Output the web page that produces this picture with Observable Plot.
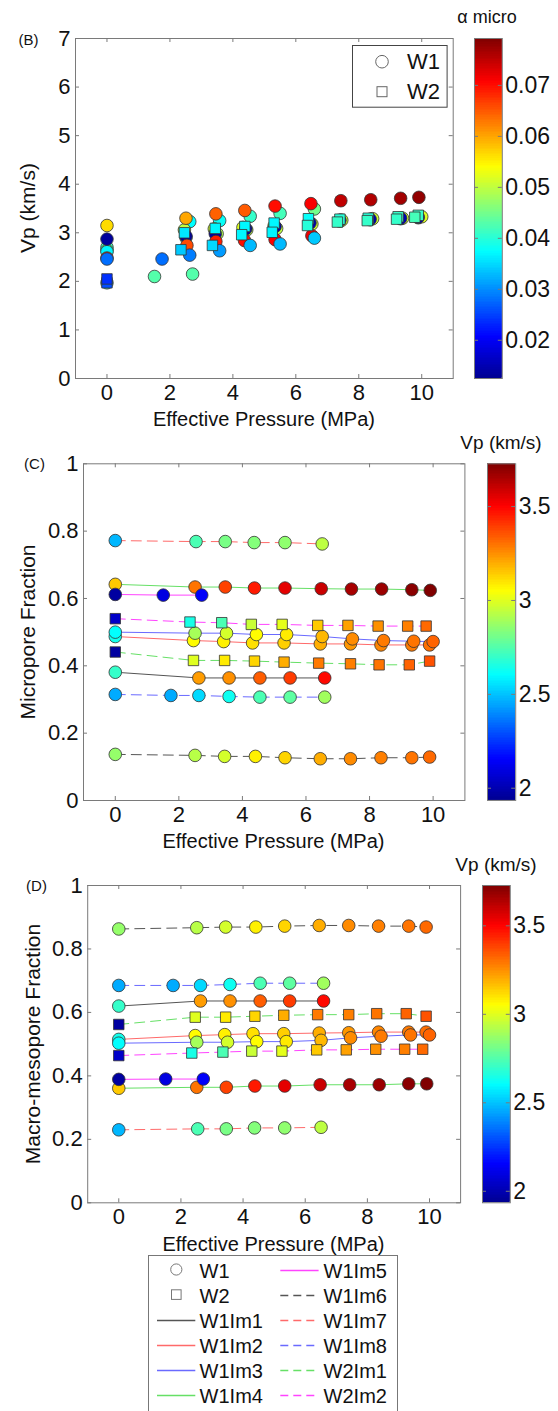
<!DOCTYPE html>
<html><head><meta charset="utf-8">
<script src="https://cdn.jsdelivr.net/npm/d3@7"></script>
<script src="https://cdn.jsdelivr.net/npm/@observablehq/plot@0.6"></script>
<style>
body{margin:0;background:#fff;}
#root{position:relative;width:558px;height:1411px;overflow:hidden;font-family:"Liberation Sans",Arial,sans-serif;color:#111;background:#fff;}
.lbl{position:absolute;white-space:nowrap;transform:translate(-50%,-50%);line-height:1;}
.rot{position:absolute;white-space:nowrap;transform:translate(-50%,-50%) rotate(-90deg);line-height:1;}
</style></head><body><div id="root"></div>
<script>
// ---------------- DATA ----------------
const samples = ["W1Im1","W1Im2","W1Im3","W1Im4","W1Im5","W1Im6","W1Im7","W1Im8","W2Im1","W2Im2"];
const wellOf  = ["W1","W1","W1","W1","W1","W1","W1","W1","W2","W2"];
// effective pressure (MPa)
const pressure = [
  [0, 2.63, 3.58, 4.55, 5.50, 6.59],
  [0, 2.46, 3.41, 4.32, 5.31, 6.45, 7.40, 8.36, 9.33, 9.89],
  [0, 2.51, 3.50, 4.44, 5.39, 6.51, 7.46, 8.44, 9.39, 10.0],
  [0, 2.51, 3.46, 4.38, 5.34, 6.48, 7.43, 8.38, 9.33, 9.91],
  [0, 1.51, 2.72],
  [0, 2.51, 3.44, 4.41, 5.34, 6.45, 7.40, 8.36, 9.33, 9.89],
  [0, 2.54, 3.46, 4.37, 5.34, 6.51],
  [0, 1.75, 2.63, 3.58, 4.55, 5.50, 6.59],
  [0, 2.46, 3.44, 4.38, 5.31, 6.40, 7.40, 8.30, 9.25, 9.89],
  [0, 2.35, 3.35, 4.28, 5.25, 6.37, 7.32, 8.27, 9.20, 9.78]
];
// Vp (km/s)
const vp = [
  [2.70, 3.23, 3.25, 3.34, 3.40, 3.49],
  [2.64, 3.06, 3.08, 3.11, 3.14, 3.20, 3.24, 3.27, 3.29, 3.31],
  [2.61, 2.90, 2.98, 3.06, 3.09, 3.18, 3.26, 3.29, 3.30, 3.33],
  [3.15, 3.30, 3.39, 3.46, 3.55, 3.60, 3.66, 3.68, 3.71, 3.73],
  [1.97, 2.10, 2.15],
  [2.87, 2.93, 2.98, 3.08, 3.13, 3.20, 3.26, 3.28, 3.30, 3.32],
  [2.48, 2.74, 2.82, 2.84, 2.86, 2.94],
  [2.46, 2.46, 2.54, 2.63, 2.74, 2.77, 2.89],
  [1.97, 3.00, 3.09, 3.13, 3.20, 3.29, 3.28, 3.30, 3.33, 3.36],
  [2.05, 2.65, 2.74, 2.96, 3.01, 3.15, 3.22, 3.25, 3.28, 3.32]
];
// alpha micro
const alphaMicro = [
  [0.042, 0.0375, 0.038, 0.041, 0.042, 0.045],
  [0.045, 0.050, 0.051, 0.052, 0.052, 0.053, 0.052, 0.052, 0.052, 0.053],
  [0.037, 0.048, 0.049, 0.050, 0.050, 0.051, 0.051, 0.051, 0.051, 0.052],
  [0.0565, 0.060, 0.0645, 0.065, 0.070, 0.0712, 0.075, 0.076, 0.077, 0.078],
  [0.0425, 0.043, 0.043],
  [0.0135, 0.0135, 0.014, 0.014, 0.014, 0.0145, 0.0145, 0.0145, 0.015, 0.015],
  [0.068, 0.066, 0.069, 0.070, 0.071, 0.072],
  [0.028, 0.028, 0.029, 0.031, 0.033, 0.033, 0.034],
  [0.026, 0.036, 0.037, 0.037, 0.037, 0.038, 0.040, 0.040, 0.041, 0.041],
  [0.024, 0.034, 0.035, 0.037, 0.037, 0.040, 0.041, 0.041, 0.041, 0.042]
];
// micropore fraction
const microFraction = [
  [0.381, 0.364, 0.364, 0.364, 0.364, 0.364],
  [0.487, 0.475, 0.472, 0.468, 0.468, 0.465, 0.465, 0.462, 0.462, 0.462],
  [0.500, 0.497, 0.497, 0.493, 0.493, 0.487, 0.480, 0.475, 0.473, 0.472],
  [0.642, 0.634, 0.634, 0.631, 0.631, 0.629, 0.628, 0.628, 0.626, 0.624],
  [0.612, 0.610, 0.610],
  [0.137, 0.134, 0.131, 0.131, 0.127, 0.124, 0.124, 0.127, 0.127, 0.129],
  [0.772, 0.769, 0.769, 0.766, 0.766, 0.762],
  [0.315, 0.312, 0.312, 0.309, 0.307, 0.307, 0.307],
  [0.441, 0.416, 0.416, 0.414, 0.411, 0.408, 0.406, 0.403, 0.403, 0.414],
  [0.540, 0.530, 0.528, 0.523, 0.523, 0.520, 0.520, 0.518, 0.518, 0.518]
];
// macro-mesopore fraction
const macroFraction = [
  [0.620, 0.636, 0.636, 0.636, 0.636, 0.636],
  [0.515, 0.527, 0.530, 0.533, 0.533, 0.535, 0.536, 0.538, 0.538, 0.538],
  [0.503, 0.506, 0.506, 0.508, 0.508, 0.512, 0.520, 0.525, 0.529, 0.529],
  [0.361, 0.364, 0.364, 0.368, 0.368, 0.372, 0.372, 0.372, 0.375, 0.375],
  [0.389, 0.390, 0.390],
  [0.863, 0.867, 0.869, 0.869, 0.872, 0.874, 0.874, 0.872, 0.872, 0.869],
  [0.230, 0.233, 0.233, 0.236, 0.236, 0.238],
  [0.685, 0.685, 0.685, 0.688, 0.692, 0.692, 0.692],
  [0.562, 0.585, 0.585, 0.588, 0.591, 0.593, 0.593, 0.596, 0.596, 0.588],
  [0.464, 0.472, 0.475, 0.478, 0.478, 0.482, 0.482, 0.484, 0.484, 0.484]
];
// tick labels
const xTicks = [0, 2, 4, 6, 8, 10];
const vpAxisTicks = [0, 1, 2, 3, 4, 5, 6, 7];
const fracTicks = [0, 0.2, 0.4, 0.6, 0.8, 1];
const alphaTicks = [0.02, 0.03, 0.04, 0.05, 0.06, 0.07];
const vpBarTicks = [2, 2.5, 3, 3.5];
const alphaDomain = [0.0125, 0.0792];
const vpDomain = [1.935, 3.728];

// ---------------- STYLES ----------------
const FONT = "'Liberation Sans', Arial, sans-serif";
const AX = "#7a7a7a";
const lineStyles = {
  W1Im1: {stroke: "#555555", dash: null},
  W1Im2: {stroke: "#ff6a6a", dash: null},
  W1Im3: {stroke: "#6a6aff", dash: null},
  W1Im4: {stroke: "#66e066", dash: null},
  W1Im5: {stroke: "#ff44ff", dash: null},
  W1Im6: {stroke: "#555555", dash: "10,6"},
  W1Im7: {stroke: "#ff6a6a", dash: "10,6"},
  W1Im8: {stroke: "#6a6aff", dash: "10,6"},
  W2Im1: {stroke: "#66e066", dash: "10,6"},
  W2Im2: {stroke: "#ff44ff", dash: "10,6"}
};
const jetColors = ["#00008f", "#0000ff", "#00ffff", "#ffff00", "#ff0000", "#800000"];
const jetStops = [0, 1/8, 3/8, 5/8, 7/8, 1];
function jet(dom) {
  return {type: "linear", domain: jetStops.map(t => dom[0] + (dom[1] - dom[0]) * t),
          range: jetColors, interpolate: "rgb", clamp: true};
}

const rows = [];
samples.forEach((s, i) => pressure[i].forEach((p, j) => rows.push({
  sample: s, well: wellOf[i], p, vp: vp[i][j], alpha: alphaMicro[i][j],
  micro: microFraction[i][j], macro: macroFraction[i][j]
})));

const root = document.getElementById("root");
function place(el, left, top) {
  el.style.position = "absolute"; el.style.left = left + "px"; el.style.top = top + "px";
  root.appendChild(el);
}
function label(text, x, y, size, rot) {
  const d = document.createElement("div");
  d.className = rot ? "rot" : "lbl";
  d.style.left = x + "px"; d.style.top = y + "px"; d.style.fontSize = size + "px";
  d.textContent = text; root.appendChild(d);
}

function panel({top, left, width, height, mt, mb, ml, mr, yDomain, yTicks, yKey, colorKey, colorDomain, lines}) {
  const innerH = height - mt - mb, innerW = width - ml - mr;
  const marks = [
    Plot.frame({stroke: AX, strokeWidth: 1}),
    Plot.tickX(xTicks, {x: d => d, insetTop: innerH - 4, stroke: AX}),
    Plot.tickX(xTicks, {x: d => d, insetBottom: innerH - 4, stroke: AX}),
    Plot.tickY(yTicks, {y: d => d, insetRight: innerW - 4, stroke: AX}),
    Plot.tickY(yTicks, {y: d => d, insetLeft: innerW - 4, stroke: AX}),
    Plot.axisX(xTicks, {tickSize: 0, tickPadding: 6, fontSize: 22, label: null, tickFormat: d => String(d)}),
    Plot.axisY(yTicks, {tickSize: 0, tickPadding: 5, fontSize: 22, label: null, tickFormat: d => String(d)})
  ];
  if (lines) samples.forEach(s => {
    const st = lineStyles[s];
    marks.push(Plot.line(rows.filter(r => r.sample === s), {x: "p", y: yKey, stroke: st.stroke, strokeWidth: 1, strokeDasharray: st.dash}));
  });
  marks.push(Plot.dot(rows.filter(r => r.well === "W1"), {x: "p", y: yKey, fill: colorKey, r: 6.3, stroke: "#333", strokeWidth: 0.8}));
  marks.push(Plot.dot(rows.filter(r => r.well === "W2"), {x: "p", y: yKey, fill: colorKey, r: 5.9, symbol: "square", stroke: "#333", strokeWidth: 0.8}));
  const svg = Plot.plot({
    width, height, marginTop: mt, marginBottom: mb, marginLeft: ml, marginRight: mr,
    x: {domain: [-1, 11]}, y: {domain: yDomain}, color: jet(colorDomain),
    style: {fontFamily: FONT, color: "#111", background: "transparent", overflow: "visible"},
    marks
  });
  place(svg, left, top);
}

function colorbar({top, left, barW, height, mt, mb, domain, ticks, fmt}) {
  const N = 200, dv = (domain[1] - domain[0]) / N;
  const steps = d3.range(N).map(i => domain[0] + dv * (i + 0.5));
  const width = 558 - left;
  const svg = Plot.plot({
    width, height, marginTop: mt, marginBottom: mb, marginLeft: 0, marginRight: width - barW,
    x: {domain: [0, 1], axis: null}, y: {domain}, color: jet(domain),
    style: {fontFamily: FONT, color: "#111", background: "transparent", overflow: "visible"},
    marks: [
      Plot.rect(steps, {x1: 0, x2: 1, y1: d => d - dv, y2: d => d + dv, fill: d => d, clip: true, shapeRendering: "crispEdges"}),
      Plot.frame({stroke: AX}),
      Plot.tickY(ticks, {y: d => d, insetRight: barW - 4, stroke: AX}),
      Plot.tickY(ticks, {y: d => d, insetLeft: barW - 4, stroke: AX}),
      Plot.axisY(ticks, {anchor: "right", tickSize: 0, tickPadding: 3, fontSize: 23, label: null, tickFormat: fmt})
    ]
  });
  place(svg, left, top);
}

// ---------- Panel B ----------
panel({top: 0, left: 0, width: 470, height: 410, mt: 38, mb: 32, ml: 75, mr: 17.3,
  yDomain: [0, 7], yTicks: vpAxisTicks, yKey: "vp", colorKey: "alpha", colorDomain: alphaDomain, lines: false});
colorbar({top: 0, left: 474, barW: 27.8, height: 410, mt: 38, mb: 32, domain: alphaDomain, ticks: alphaTicks, fmt: d => d.toFixed(2)});
label("(B)", 28.5, 39, 15);
label("\u03b1 micro", 487, 17, 18);
label("Vp (km/s)", 27, 208, 21, true);
label("Effective Pressure (MPa)", 264, 419, 20);
// inset legend (W1 / W2)
{
  const s = d3.create("svg").attr("width", 96).attr("height", 63).style("font-family", FONT);
  s.append("rect").attr("x", 0.5).attr("y", 0.5).attr("width", 94.6).attr("height", 61.7).attr("fill", "#fff").attr("stroke", "#444");
  s.append("circle").attr("cx", 30).attr("cy", 16.7).attr("r", 6.3).attr("fill", "#fff").attr("stroke", "#666");
  s.append("rect").attr("x", 25).attr("y", 41.7).attr("width", 10).attr("height", 10).attr("fill", "#fff").attr("stroke", "#666");
  s.append("text").attr("x", 55).attr("y", 16.7).attr("dy", "0.35em").attr("font-size", 22).attr("fill", "#111").text("W1");
  s.append("text").attr("x", 55).attr("y", 46.7).attr("dy", "0.35em").attr("font-size", 22).attr("fill", "#111").text("W2");
  place(s.node(), 352, 45);
}

// ---------- Panel C ----------
panel({top: 430, left: 0, width: 480, height: 400, mt: 33.3, mb: 30, ml: 83, mr: 15.6,
  yDomain: [0, 1], yTicks: fracTicks, yKey: "micro", colorKey: "vp", colorDomain: vpDomain, lines: true});
colorbar({top: 430, left: 486.8, barW: 28.2, height: 400, mt: 33.3, mb: 30, domain: vpDomain, ticks: vpBarTicks, fmt: d => String(d)});
label("(C)", 34.5, 463, 15);
label("Vp (km/s)", 501, 442, 19);
label("Micropore Fraction", 27, 632, 21, true);
label("Effective Pressure (MPa)", 273.5, 841, 20);

// ---------- Panel D ----------
panel({top: 850, left: 0, width: 480, height: 380, mt: 35, mb: 27.7, ml: 87.2, mr: 19.9,
  yDomain: [0, 1], yTicks: fracTicks, yKey: "macro", colorKey: "vp", colorDomain: vpDomain, lines: true});
colorbar({top: 850, left: 482.2, barW: 27.8, height: 380, mt: 35, mb: 27.7, domain: vpDomain, ticks: vpBarTicks, fmt: d => String(d)});
label("(D)", 36.5, 885, 15);
label("Vp (km/s)", 496, 864, 19);
label("Macro-mesopore Fraction", 32, 1044, 21, true);
label("Effective Pressure (MPa)", 273.5, 1244, 20);

// ---------- Bottom legend ----------
{
  const s = d3.create("svg").attr("width", 252).attr("height", 170).style("font-family", FONT);
  s.append("rect").attr("x", 0.5).attr("y", 0.5).attr("width", 249).attr("height", 200).attr("fill", "#fff").attr("stroke", "#777");
  const rowY = i => 14.5 + 25.1 * i;
  s.append("circle").attr("cx", 28.3).attr("cy", rowY(0)).attr("r", 5.6).attr("fill", "#fff").attr("stroke", "#777");
  s.append("rect").attr("x", 23.5).attr("y", rowY(1) - 4.8).attr("width", 9.6).attr("height", 9.6).attr("fill", "#fff").attr("stroke", "#777");
  const entries = [
    {name: "W1", col: 0, row: 0}, {name: "W2", col: 0, row: 1},
    {name: "W1Im1", col: 0, row: 2}, {name: "W1Im2", col: 0, row: 3},
    {name: "W1Im3", col: 0, row: 4}, {name: "W1Im4", col: 0, row: 5},
    {name: "W1Im5", col: 1, row: 0}, {name: "W1Im6", col: 1, row: 1},
    {name: "W1Im7", col: 1, row: 2}, {name: "W1Im8", col: 1, row: 3},
    {name: "W2Im1", col: 1, row: 4}, {name: "W2Im2", col: 1, row: 5}
  ];
  entries.forEach(e => {
    const y = Math.round(rowY(e.row)) + 0.5;
    const x0 = e.col === 0 ? 9 : 132.3, x1 = e.col === 0 ? 47.3 : 170.6, tx = e.col === 0 ? 51.6 : 175.6;
    const st = lineStyles[e.name];
    if (st) {
      const l = s.append("line").attr("x1", x0).attr("x2", x1).attr("y1", y).attr("y2", y)
        .attr("stroke", st.stroke).attr("stroke-width", 1.4);
      if (st.dash) l.attr("stroke-dasharray", "8,5");
    }
    s.append("text").attr("x", tx).attr("y", y).attr("dy", "0.35em").attr("font-size", 20).attr("fill", "#111").text(e.name);
  });
  place(s.node(), 147.7, 1255);
}
</script></body></html>
